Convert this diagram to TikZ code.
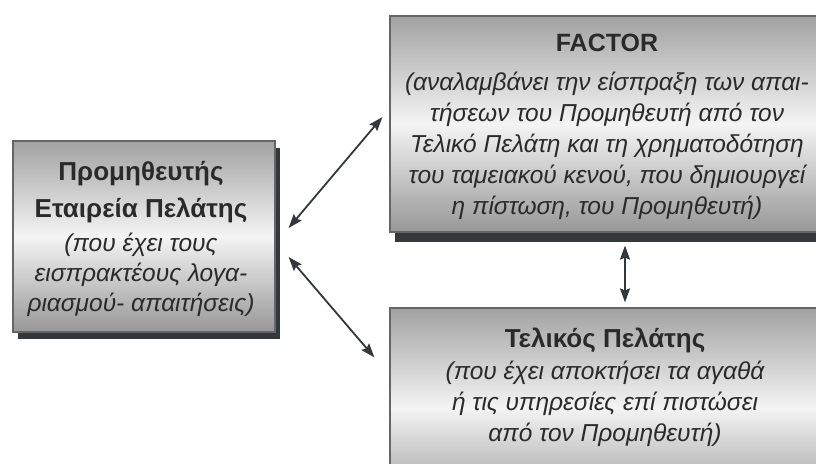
\documentclass[tikz,border=0pt]{standalone}
\usepackage{fontspec}
\setmainfont{Liberation Sans}
\usetikzlibrary{arrows.meta}
\definecolor{txt}{HTML}{2A2A2A}
\definecolor{shade}{HTML}{33383D}
\definecolor{edge}{HTML}{666666}
\definecolor{gtop}{HTML}{A2A2A2}
\definecolor{gmid}{HTML}{F4F4F4}
\definecolor{gbot}{HTML}{979797}
\tikzset{
  box/.style={draw=edge, line width=1.2pt, top color=gtop, bottom color=gbot, middle color=gmid, inner sep=0pt},
  shadowbox/.style={fill=shade, draw=none},
  lbl/.style={align=center, text=txt, inner sep=0pt, font=\fontsize{24.5}{31}\selectfont\itshape},
  lblL/.style={lbl, font=\fontsize{24.5}{30}\selectfont\itshape},
  arr/.style={draw=shade, line width=1.8pt, {Stealth[length=14pt,width=10pt,inset=2pt]}-{Stealth[length=14pt,width=10pt,inset=2pt]}},
}
\newcommand{\ttlA}[1]{{\fontsize{26}{31}\selectfont\upshape\bfseries #1}}
\newcommand{\ttlB}[1]{{\fontsize{25}{31}\selectfont\upshape\bfseries #1}}
\begin{document}
\begin{tikzpicture}[x=1pt,y=-1pt]
\useasboundingbox (0,0) rectangle (816,463);
\clip (0,0) rectangle (816,463);
% shadows
\fill[shadowbox] (18,148) rectangle (280,339);
\fill[shadowbox] (395,23) rectangle (840,242);
\fill[shadowbox] (395,315) rectangle (840,490);
% boxes
\node[box, minimum width=262pt, minimum height=191pt] (L) at (144,236.5) {};
\node[box, minimum width=440pt, minimum height=216pt] (T) at (610,124) {};
\node[box, minimum width=440pt, minimum height=200pt] (B) at (610,408) {};
% texts
\node[lblL, anchor=north] (Lt) at (141,161) {\ttlA{Προμηθευτής}\\[7pt] \ttlA{Εταιρεία Πελάτης}\\[4pt]
  (που έχει τους\\ εισπρακτέους λογα-\\ ριασμού- απαιτήσεις)};
\node[lbl, anchor=north] (Tt) at (607,34) {\ttlB{FACTOR}\\[8pt]
  (αναλαμβάνει την είσπραξη των απαι-\\ τήσεων του Προμηθευτή από τον\\ Τελικό Πελάτη και τη χρηματοδότηση\\ του ταμειακού κενού, που δημιουργεί\\ η πίστωση, του Προμηθευτή)};
\node[lbl, anchor=north] (Bt) at (605,328) {\ttlA{Τελικός Πελάτης}\\[1pt]
  (που έχει αποκτήσει τα αγαθά\\ ή τις υπηρεσίες επί πιστώσει\\ από τον Προμηθευτή)};
% arrows
\draw[arr] ([xshift=13pt,yshift=8.5pt]L.east) -- ([xshift=-7pt,yshift=7pt]T.west);
\draw[arr] ([xshift=13pt,yshift=-20.5pt]L.east) -- ([xshift=-15pt,yshift=-50pt]B.north west);
\draw[arr] ([xshift=15pt,yshift=-13pt]T.south) -- ([xshift=15pt,yshift=5pt]B.north);
\end{tikzpicture}
\end{document}
